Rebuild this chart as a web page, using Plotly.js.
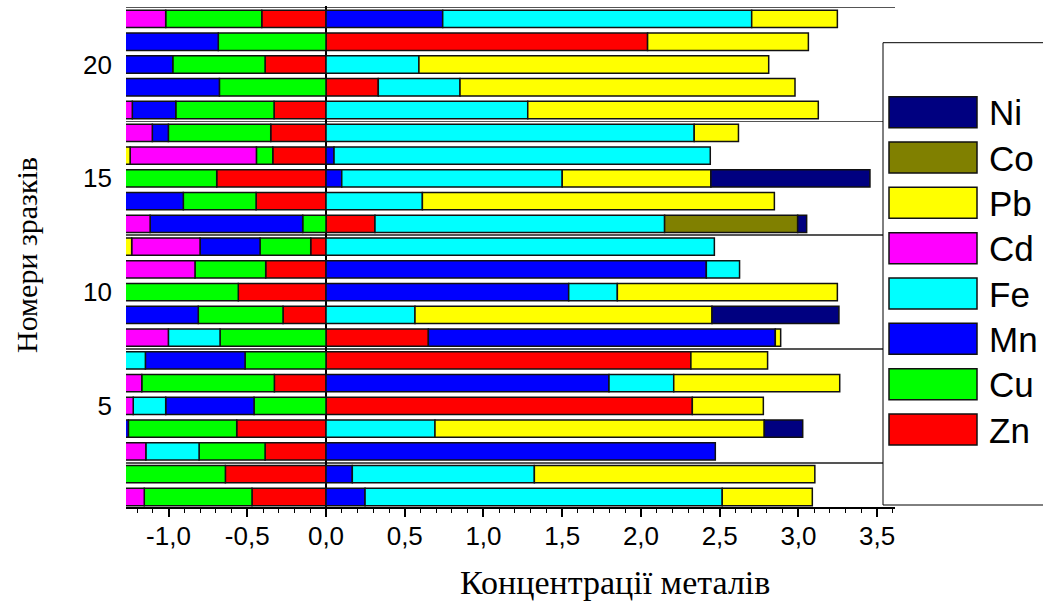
<!DOCTYPE html>
<html><head><meta charset="utf-8">
<script src="https://cdn.plot.ly/plotly-3.0.1.min.js"></script>
<style>html,body{margin:0;padding:0;background:#fff}#chart{width:1043px;height:605px}</style>
</head><body><div id="chart"></div>
<script>
// sample numbers (rows, bottom to top)
const samples = [1,2,3,4,5,6,7,8,9,10,11,12,13,14,15,16,17,18,19,20,21,22];
// metal concentrations per sample (signed as drawn)
const Zn = [-0.470,-0.639,-0.387,-0.567, 2.326,-0.328, 2.317, 0.650,-0.273,-0.557,-0.383,-0.097, 0.311,-0.444,-0.694,-0.338,-0.351,-0.330, 0.332,-0.387, 2.042,-0.408];
const Cu = [-0.684,-0.650,-0.419,-0.688,-0.457,-0.842,-0.514,-0.673,-0.538,-0.730,-0.449,-0.322,-0.148,-0.462,-0.590,-0.104,-0.650,-0.624,-0.677,-0.586,-0.684,-0.610];
const Mn = [ 0.248, 0.167, 2.472,-0.030,-0.561, 1.797,-0.633, 2.203,-0.470, 1.541, 2.415,-0.381,-0.969,-0.380, 0.100, 0.051,-0.102,-0.276,-0.610,-0.310,-0.600, 0.741];
const Fe = [ 2.268, 1.156,-0.338, 0.692,-0.206, 0.411,-0.140,-0.328, 0.565, 0.309, 0.211, 2.466, 1.839, 0.612, 1.400, 2.389, 2.338, 1.281, 0.519, 0.590, null, 1.962];
const Cd = [-0.130, null,-0.140, null,-0.060,-0.120, null,-0.280, null, null,-0.450,-0.434,-0.170, null, null,-0.802,-0.180,-0.060, null, null, null,-0.270];
const Pb = [ 0.572, 1.781, null, 2.091, 0.451, 1.054, 0.487, 0.034, 1.886, 1.397, null,-0.050, null, 2.235, 0.944,-0.040, 0.281, 1.845, 2.127, 2.221, 1.021, 0.544];
const Co = [ null, null, null, null, null, null, null, null, null, null, null, null, 0.845, null, null, null, null, null, null, null, null, null];
const Ni = [ null, null, null, 0.244, null, null, null, null, 0.806, null, null, null, 0.057, null, 1.010, null, null, null, null, null, null, null];

const metalNames = ['Zn','Cu','Mn','Fe','Cd','Pb','Co','Ni'];
const metalValues = [Zn, Cu, Mn, Fe, Cd, Pb, Co, Ni];
const metalColors = ['#FF0000','#00FF00','#0000FF','#00FFFF','#FF00FF','#FFFF00','#808000','#000080'];

const xTickVals = [-1,-0.5,0,0.5,1,1.5,2,2.5,3,3.5];
const xTickText = ['-1,0','-0,5','0,0','0,5','1,0','1,5','2,0','2,5','3,0','3,5'];
const yTickVals = [5,10,15,20];
const yTickText = ['5','10','15','20'];

const xTitle = 'Концентрації металів';
const yTitle = 'Номери зразків';

const W = 1043, H = 605, L = 126, R = 148, T = 6, B = 98;
const pw = W - L - R, ph = H - T - B;
const px = p => (p - L) / pw;
const py = p => (H - B - p) / ph;

const traces = metalNames.map((m, i) => ({
  type: 'bar', orientation: 'h', name: m,
  y: samples, x: metalValues[i],
  width: 0.76,
  marker: {color: metalColors[i], line: {color: '#111', width: 1.5}},
  hoverinfo: 'name+x'
}));

const shapes = [];
const annotations = [];
// legend box
shapes.push({type:'rect', xref:'paper', yref:'paper', x0:px(883), x1:px(1060), y0:py(505), y1:py(42.7),
  fillcolor:'#fff', line:{color:'#000', width:1}, layer:'above'});
const legendOrder = metalNames.slice().reverse();
legendOrder.forEach((m, k) => {
  const i = metalNames.indexOf(m);
  const top = 96.7 + 45.33 * k;
  shapes.push({type:'rect', xref:'paper', yref:'paper', x0:px(889), x1:px(977), y0:py(top+31), y1:py(top),
    fillcolor: metalColors[i], line:{color:'#111', width:1.5}, layer:'above'});
  annotations.push({xref:'paper', yref:'paper', x:px(987), y:py(top+16), xanchor:'left', yanchor:'middle',
    text: m, showarrow:false, font:{family:'Liberation Sans, Arial', size:35, color:'#000'}});
});
annotations.push({xref:'paper', yref:'paper', x:px(615), y:py(582), xanchor:'center', yanchor:'middle',
  text:xTitle, showarrow:false, font:{family:'Liberation Serif, Times New Roman', size:34, color:'#000'}});
annotations.push({xref:'paper', yref:'paper', x:px(26), y:py(255), xanchor:'center', yanchor:'middle', textangle:-90,
  text:yTitle, showarrow:false, font:{family:'Liberation Serif, Times New Roman', size:30, color:'#000'}});

const layout = {
  width: W, height: H,
  margin: {l: L, r: R, t: T, b: B, pad: 0},
  paper_bgcolor: '#fff', plot_bgcolor: '#fff',
  barmode: 'relative',
  showlegend: false,
  font: {family: 'Liberation Sans, Arial', size: 26, color: '#000'},
  xaxis: {
    range: [-1.270, 3.613], showgrid: false,
    zeroline: true, zerolinecolor: '#000', zerolinewidth: 2,
    showline: true, linecolor: '#000', linewidth: 2,
    ticks: 'outside', ticklen: 8, tickwidth: 2, tickcolor: '#000',
    tickmode: 'array', tickvals: xTickVals, ticktext: xTickText,
    ticklabelstandoff: -3,
    tickfont: {size: 26, family: 'Liberation Sans, Arial'},
    minor: {tick0: 0, dtick: 0.1, ticks: 'outside', ticklen: 4, tickwidth: 1, tickcolor: '#000', showgrid: false}
  },
  yaxis: {
    range: [0.56, 22.57], showgrid: false, zeroline: false, showline: false,
    tickmode: 'array', tickvals: yTickVals, ticktext: yTickText, ticks: '',
    ticklabelstandoff: 13,
    tickfont: {size: 26, family: 'Liberation Sans, Arial'},
    minor: {tick0: 2.5, dtick: 5, ticks: '', showgrid: true, gridcolor: '#555', gridwidth: 1.5}
  },
  shapes: shapes,
  annotations: annotations
};

Plotly.newPlot('chart', traces, layout, {displayModeBar: false, staticPlot: true});
</script>
</body></html>
